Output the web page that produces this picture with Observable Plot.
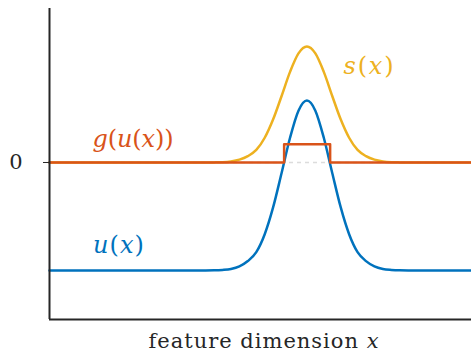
<!DOCTYPE html>
<html><head><meta charset="utf-8">
<script src="https://cdn.jsdelivr.net/npm/d3@7"></script>
<script src="https://cdn.jsdelivr.net/npm/@observablehq/plot@0.6"></script>
<style>body{margin:0;background:#fff}</style>
</head><body><div id="chart"></div>
<script>
// feature dimension samples
const xs = [0, 30, 37, 39, 41, 43, 45, 47, 49, 51, 53, 55, 57, 59, 61, 63, 65, 67, 69, 71, 73, 75, 77, 79, 81, 83, 85, 92, 100];
// u(x): input, baseline -1, bump above 0
const uVals = [-1, -1, -1, -0.999, -0.995, -0.986, -0.962, -0.913, -0.830, -0.664, -0.414, -0.097, 0.229, 0.480, 0.574,
               0.480, 0.229, -0.097, -0.414, -0.664, -0.830, -0.913, -0.962, -0.986, -0.995, -0.999, -1, -1, -1];
// s(x): bump from 0
const sVals = [0, 0, 0, 0.001, 0.003, 0.010, 0.026, 0.059, 0.116, 0.229, 0.400, 0.616, 0.839, 1.010, 1.074,
               1.010, 0.839, 0.616, 0.400, 0.229, 0.116, 0.059, 0.026, 0.010, 0.003, 0.001, 0, 0, 0];
// g(u(x)): step where u > 0
const gXs = [0, 55.6, 55.6, 66.5, 66.5, 100];
const gVals = [0, 0, 0.17, 0.17, 0, 0];
const yTicks = [0];
const xLabel = "feature dimension x";

const cBlue = "#0072BD", cRed = "#D95319", cYellow = "#EDB120", cAxis = "#262626";
const serif = "'DejaVu Serif', serif";
const yMin = -1.454, yMax = 1.426;

const curveData = xs.map((x, i) => ({x, u: uVals[i], s: sVals[i]}));
const gData = gXs.map((x, i) => ({x, g: gVals[i]}));

const chart = Plot.plot({
  width: 471, height: 360,
  marginLeft: 49, marginRight: 0, marginTop: 8, marginBottom: 41,
  x: {domain: [0, 100]},
  y: {domain: [yMin, yMax]},
  style: {background: "#fff"},
  marks: [
    Plot.ruleY([0], {stroke: "#dcdcdc", strokeWidth: 1.5, strokeDasharray: "4,4"}),
    Plot.line(curveData, {x: "x", y: "s", stroke: cYellow, strokeWidth: 2.5, curve: "monotone-x"}),
    Plot.line(curveData, {x: "x", y: "u", stroke: cBlue, strokeWidth: 2.5, curve: "monotone-x"}),
    Plot.line(gData, {x: "x", y: "g", stroke: cRed, strokeWidth: 2.5, strokeLinejoin: "round"}),
    Plot.ruleX([0], {stroke: cAxis, strokeWidth: 2}),
    Plot.ruleY([yMin], {stroke: cAxis, strokeWidth: 2}),
    Plot.axisY({ticks: yTicks, tickSize: 6, tickPadding: 21, fontSize: 21, fontFamily: serif,
                tickFormat: d => String(d), label: null, stroke: cAxis, color: cAxis}),
    Plot.axisX({ticks: [], label: null}),
    Plot.text([xLabel], {frameAnchor: "bottom", dy: 28.3, dx: 3, fontSize: 21, fontFamily: serif, fill: cAxis, className: "xlab"}),
    Plot.text(["s(x)"], {x: 75.6, y: 0.895, fill: cYellow, fontSize: 24, fontFamily: serif, className: "mlab-s"}),
    Plot.text(["g(u(x))"], {x: 19.8, y: 0.219, fill: cRed, fontSize: 24, fontFamily: serif, className: "mlab-g"}),
    Plot.text(["u(x)"], {x: 16.35, y: -0.769, fill: cBlue, fontSize: 24, fontFamily: serif, className: "mlab-u"})
  ]
});

chart.querySelectorAll("text").forEach(el => { el.style.fontFamily = serif; el.style.fontWeight = "normal"; });

function restyle(el, italicTest) {
  const s = el.textContent;
  while (el.firstChild) el.removeChild(el.firstChild);
  let i = 0;
  while (i < s.length) {
    const it = italicTest(s[i], i, s);
    let j = i;
    while (j < s.length && italicTest(s[j], j, s) === it) j++;
    const t = document.createElementNS("http://www.w3.org/2000/svg", "tspan");
    t.textContent = s.slice(i, j);
    if (it) t.style.fontStyle = "italic";
    el.appendChild(t);
    i = j;
  }
}
function fitWidth(sel, w) {
  chart.querySelectorAll(sel + " text").forEach(el => {
    el.setAttribute("textLength", w);
    el.setAttribute("lengthAdjust", "spacing");
  });
}
["s", "g", "u"].forEach(k => chart.querySelectorAll(".mlab-" + k + " text").forEach(el => restyle(el, c => /[a-z]/.test(c))));
chart.querySelectorAll(".xlab text").forEach(el => restyle(el, (c, i, s) => i === s.length - 1));
fitWidth(".xlab", 230);
fitWidth(".mlab-s", 50);
fitWidth(".mlab-g", 81);
fitWidth(".mlab-u", 51);

document.getElementById("chart").appendChild(chart);
</script>
</body></html>
